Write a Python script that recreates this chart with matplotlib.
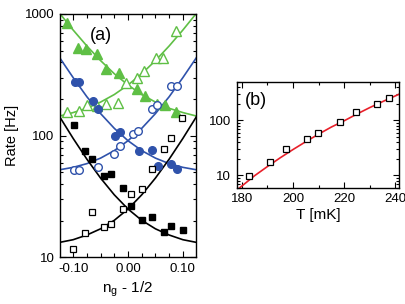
import numpy as np
import matplotlib
matplotlib.use('Agg')
import matplotlib.pyplot as plt
from matplotlib.ticker import MultipleLocator, FixedLocator, FormatStrFormatter, LogLocator, NullFormatter

plt.rcParams['font.family'] = ['Liberation Sans', 'DejaVu Sans']

# ---- panel (a): rate vs n_g - 1/2 ----
green_up_x = [-0.1115, -0.0915, -0.0764, -0.057, -0.0405, -0.0158, 0.017, 0.031, 0.052, 0.067, 0.087]
green_up_y = [839, 523, 513, 469, 351, 326, 242, 213, 182, 179, 158]
green_dn_x = [-0.1115, -0.090, -0.074, -0.057, -0.0405, -0.0176, -0.0036, 0.0158, 0.0296, 0.051, 0.064, 0.0867]
green_dn_y = [156, 160, 179, 175, 182, 187, 270, 300, 342, 433, 433, 725]

blue_f_x = [-0.0964, -0.089, -0.063, -0.054, -0.0236, -0.0145, 0.020, 0.0442, 0.054, 0.078, 0.089]
blue_f_y = [275, 278, 194, 165, 100, 108, 75, 76, 56.5, 58.6, 53]
blue_o_x = [-0.098, -0.089, -0.054, -0.0249, -0.0145, 0.0096, 0.018, 0.044, 0.053, 0.078, 0.0885]
blue_o_y = [52.5, 52.5, 55, 71, 83, 104, 110, 166, 178, 256, 257]

black_f_x = [-0.0990, -0.078, -0.065, -0.043, -0.031, -0.0085, 0.0049, 0.026, 0.044, 0.0655, 0.078, 0.0995]
black_f_y = [122, 75.4, 64.4, 47, 48.3, 37.4, 26.3, 20.4, 21.5, 16.3, 18.1, 16.8]
black_o_x = [-0.0995, -0.078, -0.065, -0.043, -0.031, -0.0085, 0.0049, 0.026, 0.044, 0.0655, 0.078, 0.0976]
black_o_y = [11.7, 15.8, 23.8, 17.7, 18.8, 25.2, 33, 36.7, 53, 77.4, 95, 139]

# fit curves (decreasing branch; rising branch is its mirror)
fit_x = [-0.125, -0.1, -0.075, -0.05, -0.025, 0.0, 0.025, 0.05, 0.075, 0.1, 0.125]
green_fit = [1017, 738, 546, 414, 323, 261, 218, 189, 168, 155, 145]
blue_fit = [440, 300, 209, 152, 115, 91, 75.5, 65.5, 59, 55, 52.5]
black_fit = [144, 95, 64.2, 44.9, 32.7, 25, 20.2, 17.2, 15.3, 14.0, 13.3]

# ---- panel (b): rate vs temperature ----
temp = [182.9, 191.0, 197.1, 205.3, 209.9, 218.5, 224.6, 232.9, 237.6]
rate = [9.6, 17.7, 29.9, 46.5, 59.7, 94.4, 139, 195, 256]
temp_fit = [178.0, 185, 190, 195, 200, 205, 210, 215, 220, 225, 230, 235, 240, 242]
rate_fit = [5.4, 9.9, 14.5, 20.9, 29.5, 41.0, 56.1, 75.5, 98, 130, 170, 218, 277, 305]

green = '#5fbf45'
blue = '#2f52ab'
red = '#e8202a'

fig = plt.figure(figsize=(4.06, 3.04), dpi=100)
ax = fig.add_axes([0.1478, 0.153, 0.335, 0.801])
bx = fig.add_axes([0.583, 0.3826, 0.4005, 0.3487])

ax.plot(fit_x, green_fit, color=green, lw=1.2)
ax.plot(fit_x, green_fit[::-1], color=green, lw=1.2)
ax.plot(fit_x, blue_fit, color=blue, lw=1.2)
ax.plot(fit_x, blue_fit[::-1], color=blue, lw=1.2)
ax.plot(fit_x, black_fit, color='black', lw=1.2)
ax.plot(fit_x, black_fit[::-1], color='black', lw=1.2)

ax.plot(green_up_x, green_up_y, '^', color=green, ms=6.5, mec=green)
ax.plot(green_dn_x, green_dn_y, '^', color=green, ms=6.5, mfc='white', mec=green, mew=1)
ax.plot(blue_f_x, blue_f_y, 'o', color=blue, ms=5.5, mec=blue)
ax.plot(blue_o_x, blue_o_y, 'o', color=blue, ms=5.5, mfc='white', mec=blue, mew=1)
ax.plot(black_f_x, black_f_y, 's', color='black', ms=4.5)
ax.plot(black_o_x, black_o_y, 's', color='black', ms=4.5, mfc='white', mew=0.9)

ax.set_yscale('log')
ax.set_xlim(-0.124, 0.124)
ax.set_ylim(10, 1000)
ax.xaxis.set_major_locator(FixedLocator([-0.1, 0.0, 0.1]))
ax.xaxis.set_major_formatter(FormatStrFormatter('%.2f'))
ax.xaxis.set_minor_locator(MultipleLocator(0.025))
ax.yaxis.set_major_locator(LogLocator(base=10))
ax.yaxis.set_minor_locator(LogLocator(base=10, subs=np.arange(2, 10)))
ax.yaxis.set_minor_formatter(NullFormatter())
ax.yaxis.set_major_formatter(plt.FuncFormatter(lambda v, p: '%d' % v))
ax.set_xlabel(r'n$_\mathregular{g}$ - 1/2', fontsize=11, labelpad=3)
ax.set_ylabel('Rate [Hz]', fontsize=10.5, labelpad=4)
ax.text(0.22, 0.893, '(a)', transform=ax.transAxes, fontsize=13)

bx.plot(temp_fit, rate_fit, color=red, lw=1.2)
bx.plot(temp, rate, 's', color='black', ms=4.5, mfc='white', mew=0.9)
bx.set_yscale('log')
bx.set_xlim(178, 241.5)
bx.set_ylim(6, 500)
bx.xaxis.set_major_locator(MultipleLocator(20))
bx.xaxis.set_minor_locator(MultipleLocator(10))
bx.yaxis.set_major_locator(LogLocator(base=10))
bx.yaxis.set_minor_locator(LogLocator(base=10, subs=np.arange(2, 10)))
bx.yaxis.set_minor_formatter(NullFormatter())
bx.yaxis.set_major_formatter(plt.FuncFormatter(lambda v, p: '%d' % v))
bx.set_xlabel('T [mK]', fontsize=11, labelpad=2)
bx.text(0.05, 0.78, '(b)', transform=bx.transAxes, fontsize=13)

for a in (ax, bx):
    a.tick_params(which='both', direction='in', top=True, right=True, labelsize=9.5, width=0.8)
    a.tick_params(which='major', length=4, pad=4)
    a.tick_params(which='minor', length=2.5)
    for s in a.spines.values():
        s.set_linewidth(1.0)
ax.tick_params(axis='x', which='minor', length=3)

fig.savefig('out.png', dpi=100)
